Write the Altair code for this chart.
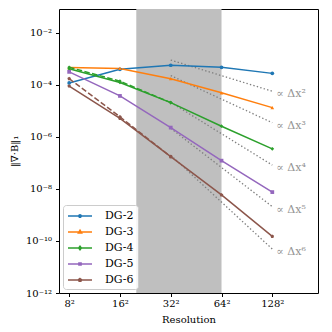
import altair as alt
import pandas as pd

# ---------------- data ----------------
resolutions = [8, 16, 32, 64, 128]
series_names = ["DG-2", "DG-3", "DG-4", "DG-5", "DG-6"]
dg2 = [1.2e-4, 4.0e-4, 5.75e-4, 4.8e-4, 2.8e-4]
dg3 = [4.7e-4, 4.35e-4, 1.75e-4, 5.0e-5, 1.35e-5]
dg4 = [4.2e-4, 1.25e-4, 2.1e-5, 2.6e-6, 3.5e-7]
dg5 = [3.2e-4, 3.8e-5, 2.3e-6, 1.23e-7, 7.6e-9]
dg6 = [9.1e-5, 5.2e-6, 1.75e-7, 5.9e-9, 1.5e-10]

dashed_res = [8, 16, 32]
dg4_dashed = [4.8e-4, 1.4e-4, 2.1e-5]
dg6_dashed = [1.75e-4, 6.0e-6, 1.75e-7]

ref_labels = ["∝ Δx²", "∝ Δx³", "∝ Δx⁴", "∝ Δx⁵", "∝ Δx⁶"]
ref_res = [32, 128]
ref_start = [9.1e-4, 2.3e-4, 2.15e-5, 2.15e-6, 2.0e-7]
ref_end = [5.75e-5, 3.55e-6, 8.3e-8, 2.1e-9, 4.9e-11]

band = [20, 64]

colors = ["#1f77b4", "#ff7f0e", "#2ca02c", "#9467bd", "#8c564b"]
pent = "M0,-1L0.951,-0.309L0.588,0.809L-0.588,0.809L-0.951,-0.309Z"
markers = ["circle", "triangle-up", "diamond", "square", pent]
legend_paths = [
    "M-2,0H2M0.2,0A0.2,0.2 0 1,1 -0.2,0A0.2,0.2 0 1,1 0.2,0Z",
    "M-2,0H2M0,-0.3L0.27,0.18L-0.27,0.18Z",
    "M-2,0H2M0,-0.3L0.22,0L0,0.3L-0.22,0Z",
    "M-2,0H2M-0.18,-0.18H0.18V0.18H-0.18Z",
    "M-2,0H2M0,-0.25L0.24,-0.08L0.15,0.2L-0.15,0.2L-0.24,-0.08Z",
]

FONT = "DejaVu Serif"
W, H = 259, 284
Y_MIN, Y_MAX = 1e-12, 10 ** -1.077
X_MIN, X_MAX = 2 ** 2.8, 2 ** 7.9

# ---------------- tables ----------------
rows = []
for name, vals, col, mk in zip(series_names, [dg2, dg3, dg4, dg5, dg6], colors, markers):
    for r, v in zip(resolutions, vals):
        rows.append({"series": name, "line": name, "res": r, "err": v, "col": col, "mk": mk})
solid = pd.DataFrame(rows)

drows = []
for name, vals, col, mk in [("DG-4", dg4_dashed, colors[2], markers[2]),
                            ("DG-6", dg6_dashed, colors[4], markers[4])]:
    for r, v in zip(dashed_res, vals):
        drows.append({"series": name, "line": name + "d", "res": r, "err": v, "col": col, "mk": mk})
dashed = pd.DataFrame(drows)

rrows = []
for lab, s, e in zip(ref_labels, ref_start, ref_end):
    rrows.append({"lab": lab, "res": ref_res[0], "err": s})
    rrows.append({"lab": lab, "res": ref_res[1], "err": e})
refs = pd.DataFrame(rrows)
ref_text = pd.DataFrame({"lab": ref_labels, "res": [ref_res[1]] * 5, "err": ref_end})

band_df = pd.DataFrame({"x0": [band[0]], "x1": [band[1]], "y0": [Y_MIN], "y1": [Y_MAX]})
legend_df = pd.DataFrame({"series": series_names})

xs = alt.Scale(type="log", base=2, domain=[X_MIN, X_MAX])
ys = alt.Scale(type="log", domain=[Y_MIN, Y_MAX])

ylab = ("'10' + ['⁻¹²','⁻¹⁰','⁻⁸','⁻⁶','⁻⁴','⁻²']"
        "[round((log(datum.value)/LN10 + 12)/2)]")

X = alt.X("res:Q", scale=xs, axis=alt.Axis(
    values=resolutions, labelExpr="datum.value + '²'", title="Resolution",
    grid=False, tickSize=3.5, labelPadding=2, titlePadding=6, domain=False))
Y = alt.Y("err:Q", scale=ys, axis=alt.Axis(
    values=[1e-12, 1e-10, 1e-8, 1e-6, 1e-4, 1e-2], labelExpr=ylab,
    title="‖∇·B‖₁", grid=False, tickSize=3.5, labelPadding=4, titlePadding=6,
    domain=False))

rect = alt.Chart(band_df).mark_rect(color="#bfbfbf").encode(
    x=alt.X("x0:Q", scale=xs), x2="x1:Q",
    y=alt.Y("y0:Q", scale=ys), y2="y1:Q")

ref_lines = alt.Chart(refs).mark_line(
    color="#7f7f7f", strokeWidth=1.3, strokeDash=[1.4, 2.2]).encode(
    x=X, y=Y, detail="lab:N")

ref_txt = alt.Chart(ref_text).mark_text(
    align="left", baseline="middle", dx=4, dy=3, font=FONT, fontSize=11,
    color="#939393").encode(x=X, y=Y, text="lab:N")

solid_lines = alt.Chart(solid).mark_line(strokeWidth=1.5).encode(
    x=X, y=Y, color=alt.Color("col:N", scale=None), detail="line:N")
dashed_lines = alt.Chart(dashed).mark_line(strokeWidth=1.5, strokeDash=[5.5, 2.4]).encode(
    x=X, y=Y, color=alt.Color("col:N", scale=None), detail="line:N")
pts = alt.Chart(pd.concat([solid, dashed])).mark_point(filled=True, size=14, opacity=1).encode(
    x=X, y=Y, color=alt.Color("col:N", scale=None), shape=alt.Shape("mk:N", scale=None))

leg = alt.Legend(
    title=None, orient="bottom-left", offset=4, padding=4,
    strokeColor="#cccccc", fillColor="rgba(255,255,255,0.85)", cornerRadius=3,
    labelFont=FONT, labelFontSize=11, labelColor="black",
    symbolSize=144, symbolStrokeWidth=1.5, symbolOffset=6, labelOffset=18,
    rowPadding=4)
legend_layer = alt.Chart(legend_df).mark_point(
    filled=False, size=144, strokeWidth=1.5, opacity=1, clip=True).encode(
    x=alt.value(-300), y=alt.value(-300),
    color=alt.Color("series:N", scale=alt.Scale(domain=series_names, range=colors), legend=leg),
    shape=alt.Shape("series:N", scale=alt.Scale(domain=series_names, range=legend_paths), legend=leg))

chart = alt.layer(
    rect, ref_lines, solid_lines, dashed_lines, pts, ref_txt, legend_layer
).properties(
    width=W, height=H,
    background="white",
    autosize=alt.AutoSizeParams(type="none"),
    padding={"left": 51, "top": 1, "right": 5, "bottom": 34},
).configure_view(
    stroke="black", strokeWidth=1
).configure_axis(
    labelFont=FONT, labelFontSize=10, labelColor="black",
    titleFont=FONT, titleFontSize=10, titleFontWeight="normal", titleColor="black",
    tickColor="black", tickWidth=1
)

chart.save("out.html", embed_options={"renderer": "svg", "actions": False})
